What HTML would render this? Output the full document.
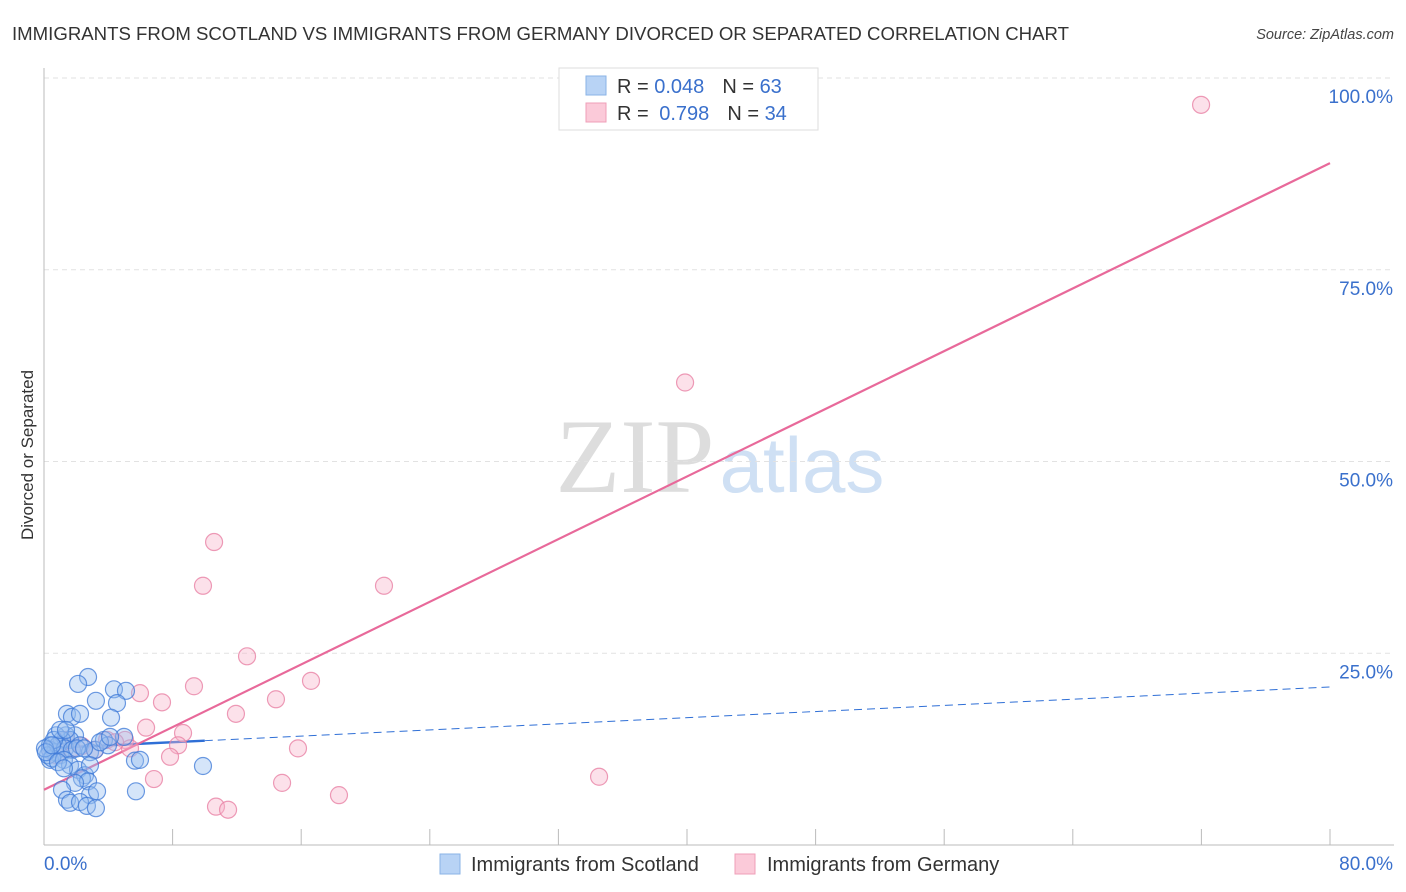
<!DOCTYPE html>
<html><head><meta charset="utf-8">
<style>
body{margin:0;background:#fff;font-family:"Liberation Sans",sans-serif;}
svg{display:block}
</style></head>
<body>
<svg id="chart" width="1406" height="892" xmlns="http://www.w3.org/2000/svg">
<text x="12" y="40" font-size="18" textLength="1057" lengthAdjust="spacingAndGlyphs" fill="#333" font-family="Liberation Sans, sans-serif">IMMIGRANTS FROM SCOTLAND VS IMMIGRANTS FROM GERMANY DIVORCED OR SEPARATED CORRELATION CHART</text>
<text x="1394" y="39" font-size="14.5" fill="#444" font-style="italic" text-anchor="end">Source: ZipAtlas.com</text>
<text transform="translate(33,455) rotate(-90)" font-size="17" fill="#333" text-anchor="middle">Divorced or Separated</text>
<g>
<text x="635" y="492" font-size="106" fill="#ddd" font-family="Liberation Serif, serif" text-anchor="middle">ZIP</text>
<text x="802" y="492" font-size="78" fill="#cfe0f4" text-anchor="middle">atlas</text>
</g>
<g id="grid"></g>
<g id="axes"></g>
<g id="lines"></g>
<g id="points"></g>
<g>
<rect x="559" y="68" width="259" height="62" fill="#fff" stroke="#ddd"/>
<rect x="586" y="76" width="20" height="19" fill="#b8d3f5" stroke="#8ab3e6"/>
<rect x="586" y="103" width="20" height="19" fill="#fbcad9" stroke="#ef9fb8"/>
<text x="617" y="93" font-size="20" fill="#333">R = <tspan fill="#3a70cc">0.048</tspan><tspan dx="18">N = </tspan><tspan fill="#3a70cc">63</tspan></text>
<text x="617" y="120" font-size="20" fill="#333">R = <tspan dx="5" fill="#3a70cc">0.798</tspan><tspan dx="18">N = </tspan><tspan fill="#3a70cc">34</tspan></text>
</g>
<g>
<rect x="440" y="854" width="20" height="20" fill="#b8d3f5" stroke="#8ab3e6"/>
<text x="471" y="871" font-size="20" fill="#333">Immigrants from Scotland</text>
<rect x="735" y="854" width="20" height="20" fill="#fbcad9" stroke="#ef9fb8"/>
<text x="767" y="871" font-size="20" fill="#333">Immigrants from Germany</text>
</g>
</svg>
<script>
const yTicks=[25,50,75,100];
const yTickLabels=["25.0%","50.0%","75.0%","100.0%"];
const xEndLabels=["0.0%","80.0%"];
const blueX=[2.74,2.12,3.23,4.35,5.10,4.54,4.17,1.43,1.74,2.24,1.37,1.93,1.62,0.75,1.12,0.37,0.37,0.68,1.0,0.37,0.25,0.5,0.87,1.31,1.74,2.24,2.86,3.17,3.73,3.98,4.98,5.66,5.97,9.89,1.24,1.62,2.12,2.55,2.86,2.36,2.74,1.93,2.86,1.12,1.43,1.62,2.24,2.67,3.23,3.30,5.72,0.62,1.0,1.37,2.05,0.06,0.12,0.5,0.87,1.24,2.49,3.48,4.11];
const blueY=[21.9,21.0,18.8,20.3,20.1,18.5,16.6,17.1,16.7,17.1,14.3,14.3,13.7,14.3,13.7,13.0,12.4,12.1,11.7,11.1,11.7,11.3,13.0,12.6,12.4,13.0,12.1,12.4,13.7,13.0,14.1,11.0,11.1,10.3,11.1,10.4,9.8,9.1,10.4,8.7,8.3,8.1,6.5,7.2,5.9,5.5,5.6,5.1,4.8,7.0,7.0,13.7,15.0,15.0,12.6,12.6,12.1,13.0,10.8,10.0,12.6,13.4,14.1];
const pinkX=[71.98,39.88,10.58,9.89,21.15,12.63,9.33,16.61,5.97,7.34,14.43,11.94,6.35,8.65,8.34,3.92,5.04,5.35,15.80,7.84,6.84,14.81,18.35,34.53,10.70,11.45,1.0,1.37,1.74,2.36,3.17,4.42,0.37,0.75];
const pinkY=[96.5,60.3,39.5,33.8,33.8,24.6,20.7,21.4,19.8,18.6,19.0,17.1,15.3,14.6,13.0,13.7,13.7,12.6,12.6,11.5,8.6,8.1,6.5,8.9,5.0,4.6,13.0,13.7,12.6,12.9,12.4,13.4,12.4,11.7];
const blueTrend=[12.6,20.6];
const pinkTrend=[7.2,88.9];
const NS="http://www.w3.org/2000/svg";
const X0=44,X1=1330,Y0=845,Y100=78;
const sx=v=>X0+(X1-X0)*v/80;
const sy=v=>Y0-(Y0-Y100)*v/100;
function mk(tag,attrs,parent){const e=document.createElementNS(NS,tag);for(const k in attrs)e.setAttribute(k,attrs[k]);parent.appendChild(e);return e;}
const grid=document.getElementById('grid'),axes=document.getElementById('axes'),lines=document.getElementById('lines'),pts=document.getElementById('points');
yTicks.forEach((t,i)=>{
 const g=mk('line',{x1:X0,x2:1394,y1:sy(t),y2:sy(t),stroke:'#e2e2e2','stroke-dasharray':'5,4'},grid);
 
 
 const l=mk('text',{x:1393,y:sy(t)+25,'font-size':19,fill:'#3a70cc','text-anchor':'end'},axes);
 l.textContent=yTickLabels[i];
 
 
});
const ya=mk('line',{x1:X0,x2:X0,y1:68,y2:Y0,stroke:'#bbb'},axes);


const xa=mk('line',{x1:X0,x2:1394,y1:Y0,y2:Y0,stroke:'#bbb'},axes);


for(let i=1;i<=10;i++){
 const t=mk('line',{x1:sx(i*8),x2:sx(i*8),y1:Y0,y2:Y0-16,stroke:'#bbb'},axes);
 
 
}
const xl0=mk('text',{x:44,y:870,'font-size':19,fill:'#3a70cc'},axes);xl0.textContent=xEndLabels[0];


const xl1=mk('text',{x:1393,y:870,'font-size':19,fill:'#3a70cc','text-anchor':'end'},axes);xl1.textContent=xEndLabels[1];


function addPts(xs,ys,fill,stroke,name){xs.forEach((x,i)=>{
 const c=mk('circle',{cx:sx(x),cy:sy(ys[i]),r:8.5,fill:fill,stroke:stroke,'stroke-width':1.2},pts);
 
 
});}
addPts(pinkX,pinkY,'rgba(248,180,202,0.4)','rgba(232,130,165,0.8)','germany-point');
addPts(blueX,blueY,'rgba(150,190,240,0.4)','rgba(60,120,215,0.75)','scotland-point');
const bAt=x=>blueTrend[0]+(blueTrend[1]-blueTrend[0])*x/80;
const bs=mk('line',{x1:sx(0),y1:sy(bAt(0)),x2:sx(10),y2:sy(bAt(10)),stroke:'#2f6fd6','stroke-width':2.5},lines);


const bd=mk('line',{x1:sx(10),y1:sy(bAt(10)),x2:sx(80),y2:sy(bAt(80)),stroke:'#2f6fd6','stroke-width':1,'stroke-dasharray':'8,5'},lines);


const pl=mk('line',{x1:sx(0),y1:sy(pinkTrend[0]),x2:sx(80),y2:sy(pinkTrend[1]),stroke:'#e8699a','stroke-width':2.2},lines);


</script>
</body></html>
